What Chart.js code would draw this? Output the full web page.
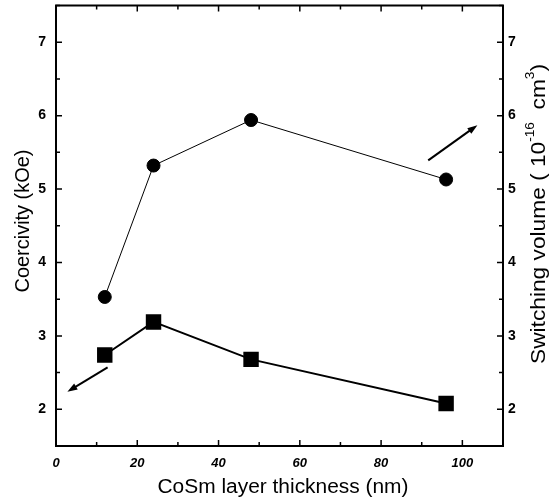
<!DOCTYPE html>
<html>
<head>
<meta charset="utf-8">
<script src="https://cdn.jsdelivr.net/npm/chart.js@4"></script>
<style>
  html, body { margin: 0; padding: 0; background: #fff; overflow: hidden; }
  #clip { width: 550px; height: 501px; overflow: hidden; position: relative; }
  #wrap { width: 550px; height: 507px; position: absolute; left: 0; top: -6px; }
</style>
</head>
<body>
<div id="clip"><div id="wrap"><canvas id="chart"></canvas></div></div>
<script>
// data
const thickness = [12, 24, 48, 96];
const coercivity = [2.74, 3.19, 2.68, 2.08];        // squares, left axis (kOe)
const switchingVolume = [3.53, 5.32, 5.94, 5.13];   // circles, right axis (1e-16 cm3)
const yTicks = [2, 3, 4, 5, 6, 7];
const xTicks = [0, 20, 40, 60, 80, 100];

// arrows pointing to the axis each series belongs to (data units)
const arrowLeft = { from: [12.7, 2.57], to: [2.8, 2.24] };
const arrowRight = { from: [91.6, 5.39], to: [103.7, 5.87] };

const font = "'Liberation Sans', Arial, sans-serif";
const SHIFT = 6; // canvas sits 6px above the page top
Chart.defaults.font.family = font;
Chart.defaults.color = "#000";

const pts = (ys) => thickness.map((x, i) => ({ x: x, y: ys[i] }));

// draws text pieces [text, size, dy] centred at 0,0, stretched to span px
function fitText(ctx, parts, span) {
  let total = 0;
  parts.forEach(p => { ctx.font = p[1] + "px " + font; total += ctx.measureText(p[0]).width; });
  const k = span / total;
  ctx.scale(k, 1);
  let cx = -total / 2;
  ctx.textAlign = "left";
  ctx.textBaseline = "middle";
  parts.forEach(p => {
    ctx.font = p[1] + "px " + font;
    ctx.fillText(p[0], cx, p[2]);
    cx += ctx.measureText(p[0]).width;
  });
}

// frame, inward ticks, arrows and axis titles
const decor = {
  id: "decor",
  afterDraw(chart) {
    const ctx = chart.ctx;
    const a = chart.chartArea;
    const x = chart.scales.x, y = chart.scales.y;
    ctx.save();
    ctx.strokeStyle = "#000";
    ctx.lineWidth = 2;
    ctx.strokeRect(a.left, a.top, a.right - a.left, a.bottom - a.top);

    ctx.lineWidth = 1.5;
    ctx.beginPath();
    for (let v = 0; v <= 110; v += 10) {
      const px = x.getPixelForValue(v);
      const len = v % 20 === 0 ? 6 : 4;
      ctx.moveTo(px, a.bottom); ctx.lineTo(px, a.bottom - len);
      ctx.moveTo(px, a.top); ctx.lineTo(px, a.top + len);
    }
    for (let v = 1.5; v <= 7.5; v += 0.5) {
      const py = y.getPixelForValue(v);
      const len = v % 1 === 0 ? 6 : 4;
      ctx.moveTo(a.left, py); ctx.lineTo(a.left + len, py);
      ctx.moveTo(a.right, py); ctx.lineTo(a.right - len, py);
    }
    ctx.stroke();

    const arrow = (ar) => {
      const x1 = x.getPixelForValue(ar.from[0]), y1 = y.getPixelForValue(ar.from[1]);
      const x2 = x.getPixelForValue(ar.to[0]), y2 = y.getPixelForValue(ar.to[1]);
      const c = Math.cos(Math.atan2(y2 - y1, x2 - x1)), s = Math.sin(Math.atan2(y2 - y1, x2 - x1));
      ctx.lineWidth = 2;
      ctx.beginPath();
      ctx.moveTo(x1, y1);
      ctx.lineTo(x2 - 6 * c, y2 - 6 * s);
      ctx.stroke();
      ctx.beginPath();
      ctx.moveTo(x2, y2);
      ctx.lineTo(x2 - 10 * c + 3.5 * s, y2 - 10 * s - 3.5 * c);
      ctx.lineTo(x2 - 10 * c - 3.5 * s, y2 - 10 * s + 3.5 * c);
      ctx.closePath();
      ctx.fill();
    };
    ctx.fillStyle = "#000";
    arrow(arrowLeft);
    arrow(arrowRight);

    // titles (page coordinates + SHIFT)
    ctx.save();
    ctx.translate(283, 487 + SHIFT);
    fitText(ctx, [["CoSm layer thickness (nm)", 20, 0]], 251);
    ctx.restore();

    ctx.save();
    ctx.translate(23, 221 + SHIFT);
    ctx.rotate(-Math.PI / 2);
    fitText(ctx, [["Coercivity (kOe)", 20, 0]], 143);
    ctx.restore();

    ctx.save();
    ctx.translate(539, 214 + SHIFT);
    ctx.rotate(-Math.PI / 2);
    fitText(ctx, [
      ["Switching volume ( 10", 20, 0],
      ["-16", 12, -8],
      ["  cm", 20, 0],
      ["3", 12, -8],
      [")", 20, 0]
    ], 300);
    ctx.restore();
    ctx.restore();
  }
};

new Chart(document.getElementById("chart"), {
  type: "scatter",
  data: {
    datasets: [
      {
        label: "Switching volume",
        data: pts(switchingVolume),
        yAxisID: "y2",
        showLine: true,
        borderColor: "#000",
        backgroundColor: "#000",
        borderWidth: 1,
        pointStyle: "circle",
        pointRadius: 6.5,
      },
      {
        label: "Coercivity",
        data: pts(coercivity),
        yAxisID: "y",
        showLine: true,
        borderColor: "#000",
        backgroundColor: "#000",
        borderWidth: 2,
        pointStyle: "rect",
        pointRadius: 9.5,
      },
    ],
  },
  options: {
    responsive: true,
    maintainAspectRatio: false,
    animation: false,
    layout: { padding: { top: 5, left: 0, right: 0, bottom: 0 } },
    plugins: { legend: { display: false }, tooltip: { enabled: false } },
    scales: {
      x: {
        type: "linear",
        min: 0, max: 110,
        afterFit(s) { s.height = 55; s.paddingLeft = 0; s.paddingRight = 0; },
        afterBuildTicks(s) { s.ticks = xTicks.map(v => ({ value: v })); },
        grid: { display: false, drawTicks: false },
        border: { display: false },
        ticks: { padding: 10, font: { size: 13, style: "italic", weight: "bold" } },
      },
      y: {
        position: "left",
        min: 1.5, max: 7.5,
        afterFit(s) { s.width = 56; s.paddingTop = 0; s.paddingBottom = 0; },
        afterBuildTicks(s) { s.ticks = yTicks.map(v => ({ value: v })); },
        grid: { display: false, drawTicks: false },
        border: { display: false },
        ticks: { padding: 10, font: { size: 14, weight: "bold" } },
      },
      y2: {
        position: "right",
        min: 1.5, max: 7.5,
        afterFit(s) { s.width = 47; s.paddingTop = 0; s.paddingBottom = 0; },
        afterBuildTicks(s) { s.ticks = yTicks.map(v => ({ value: v })); },
        grid: { display: false, drawTicks: false },
        border: { display: false },
        ticks: { padding: 5, font: { size: 14, weight: "bold" } },
      },
    },
  },
  plugins: [decor],
});
</script>
</body>
</html>
